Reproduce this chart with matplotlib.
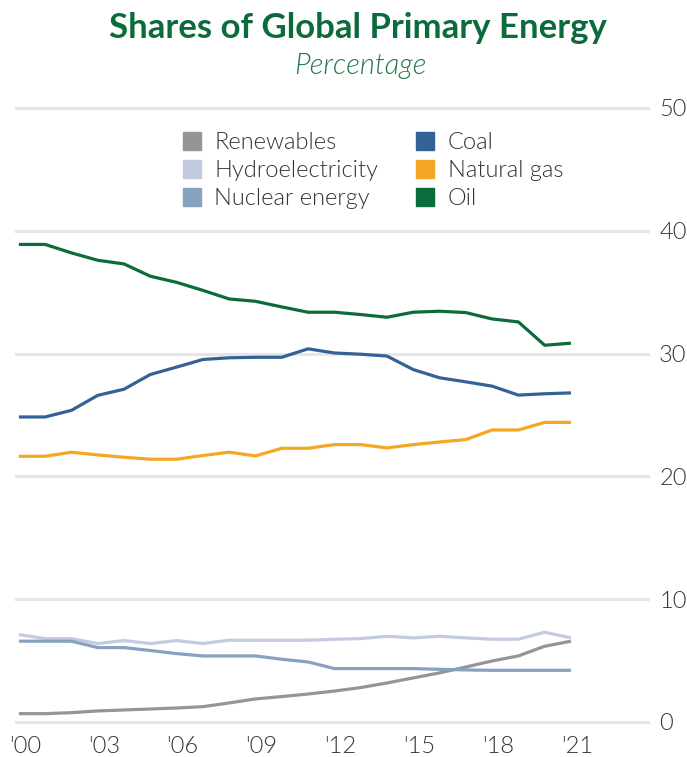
import matplotlib.pyplot as plt
from matplotlib.lines import Line2D
from matplotlib.transforms import ScaledTranslation

# Shares of global primary energy, percent, 2000-2021
years = list(range(2000, 2022))
renewables = [0.68, 0.68, 0.76, 0.90, 0.98, 1.06, 1.14, 1.25, 1.55, 1.88, 2.07,
              2.28, 2.52, 2.80, 3.18, 3.59, 4.00, 4.48, 4.97, 5.38, 6.17, 6.58]
hydro = [7.12, 6.79, 6.79, 6.39, 6.63, 6.39, 6.63, 6.39, 6.66, 6.66, 6.66,
         6.66, 6.74, 6.79, 6.98, 6.85, 6.98, 6.85, 6.74, 6.74, 7.31, 6.85]
nuclear = [6.58, 6.58, 6.58, 6.06, 6.06, 5.82, 5.57, 5.38, 5.38, 5.38, 5.11,
           4.89, 4.35, 4.35, 4.35, 4.35, 4.29, 4.24, 4.21, 4.21, 4.21, 4.21]
coal = [24.84, 24.84, 25.38, 26.60, 27.10, 28.30, 28.90, 29.52, 29.66, 29.70, 29.70,
        30.39, 30.05, 29.95, 29.80, 28.70, 28.03, 27.70, 27.35, 26.62, 26.73, 26.80]
natural_gas = [21.64, 21.64, 21.97, 21.75, 21.56, 21.40, 21.40, 21.70, 21.97, 21.67, 22.29,
               22.29, 22.59, 22.59, 22.32, 22.59, 22.80, 23.00, 23.78, 23.78, 24.40, 24.40]
oil = [38.89, 38.89, 38.20, 37.60, 37.30, 36.30, 35.80, 35.15, 34.45, 34.26, 33.80,
       33.37, 33.37, 33.18, 32.96, 33.37, 33.45, 33.34, 32.82, 32.58, 30.68, 30.85]

tick_years = [2000, 2003, 2006, 2009, 2012, 2015, 2018, 2021]
tick_labels = ["'00", "'03", "'06", "'09", "'12", "'15", "'18", "'21"]

series = [
    ('Renewables', renewables, '#939598'),
    ('Hydroelectricity', hydro, '#c2cbe0'),
    ('Nuclear energy', nuclear, '#87a1c0'),
    ('Coal', coal, '#356296'),
    ('Natural gas', natural_gas, '#f5a623'),
    ('Oil', oil, '#0b6b3a'),
]

plt.rcParams['font.family'] = ['Lato', 'DejaVu Sans']
LIGHT = 300  # Lato Light

fig = plt.figure(figsize=(6.87, 7.57), dpi=100)
ax = fig.add_axes([16 / 687, 1 - 722 / 757, (648 - 16) / 687, (722 - 108) / 757])

for name, values, color in series:
    ax.plot(years, values, color=color, linewidth=2.3, solid_capstyle='butt', zorder=3)

ax.set_xlim(1999.89, 2023.93)
ax.set_ylim(0, 50)
ax.set_yticks([0, 10, 20, 30, 40, 50])
ax.set_xticks(tick_years)
ax.set_xticklabels(tick_labels)
ax.yaxis.tick_right()
ax.tick_params(axis='both', length=0, labelsize=17, labelcolor='#333333')
ax.tick_params(axis='y', pad=8)
ax.tick_params(axis='x', pad=10)
shift = ScaledTranslation(6 / 100, 0, fig.dpi_scale_trans)
for lbl in ax.get_xticklabels():
    lbl.set_fontweight(LIGHT)
    lbl.set_transform(lbl.get_transform() + shift)
for lbl in ax.get_yticklabels():
    lbl.set_fontweight(LIGHT)

ax.grid(axis='y', color='#e6e6e6', linewidth=2.2, zorder=0)
ax.grid(axis='x', visible=False)
for gl in ax.get_ygridlines():
    gl.set_clip_on(False)
for s in ax.spines.values():
    s.set_visible(False)

handles = [Line2D([], [], linestyle='none', marker='s', markersize=12.5,
                  markerfacecolor=c, markeredgecolor=c) for _, _, c in series]
labels = [n for n, _, _ in series]
leg = ax.legend(handles, labels, ncol=2, loc='upper left',
                bbox_to_anchor=(180 / 687, 1 - 132 / 757), bbox_transform=fig.transFigure,
                frameon=False, fontsize=17, handlelength=1.0, handletextpad=0.45,
                columnspacing=1.5, labelspacing=0.3, borderpad=0, borderaxespad=0)
for t in leg.get_texts():
    t.set_fontweight(LIGHT)
    t.set_color('#333333')

fig.text(358 / 687, 1 - 28 / 757, 'Shares of Global Primary Energy', ha='center', va='center',
         fontsize=25, fontweight='bold', color='#0b6b3a')
fig.text(360 / 687, 1 - 66 / 757, 'Percentage', ha='center', va='center',
         fontsize=21, fontweight=LIGHT, fontstyle='italic', color='#1f7a47')

fig.savefig('out.png', dpi=100)
